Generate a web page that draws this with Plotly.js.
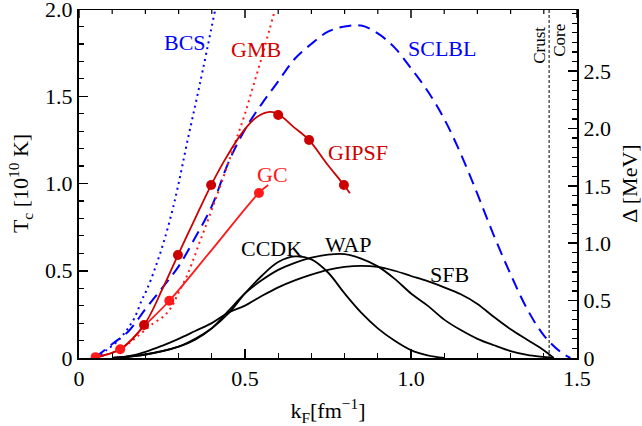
<!DOCTYPE html>
<html>
<head>
<meta charset="utf-8">
<script src="https://cdn.plot.ly/plotly-3.0.1.min.js"></script>
<style>
html,body{margin:0;padding:0;background:#fff;}
#chart{width:642px;height:426px;}
</style>
</head>
<body>
<div id="chart"></div>
<script>
// ---- data (k_F in fm^-1, T_c in 10^10 K) ----
const bcsKF   = [0.05, 0.083, 0.114, 0.144, 0.169, 0.189, 0.204, 0.229, 0.254, 0.279, 0.299, 0.324, 0.364, 0.41];
const bcsTc   = [0.0, 0.046, 0.093, 0.16, 0.237, 0.332, 0.39, 0.514, 0.657, 0.829, 0.991, 1.22, 1.57, 1.994];

const gmbKF   = [0.05, 0.124, 0.18, 0.224, 0.254, 0.279, 0.299, 0.324, 0.344, 0.364, 0.385, 0.405, 0.425, 0.45, 0.475, 0.50, 0.525, 0.55, 0.575, 0.59];
const gmbTc   = [0.0, 0.05, 0.13, 0.199, 0.237, 0.294, 0.371, 0.466, 0.562, 0.667, 0.772, 0.877, 0.982, 1.12, 1.26, 1.40, 1.56, 1.72, 1.89, 1.994];

const sclblKF = [0.05, 0.10, 0.15, 0.20, 0.25, 0.30, 0.35, 0.40, 0.45, 0.50, 0.55, 0.60, 0.65, 0.70, 0.75, 0.80, 0.85, 0.90, 0.95, 1.00, 1.05, 1.10, 1.15, 1.20, 1.25, 1.30, 1.35, 1.40, 1.45, 1.48];
const sclblTc = [0.005, 0.08, 0.155, 0.28, 0.40, 0.525, 0.69, 0.87, 1.12, 1.31, 1.455, 1.585, 1.715, 1.80, 1.87, 1.90, 1.905, 1.86, 1.78, 1.66, 1.53, 1.37, 1.17, 0.94, 0.70, 0.48, 0.28, 0.13, 0.035, 0.0];

const gipsfCurveKF = [0.05, 0.124, 0.196, 0.25, 0.298, 0.35, 0.398, 0.445, 0.495, 0.535, 0.575, 0.60, 0.645, 0.693, 0.746, 0.798, 0.816];
const gipsfCurveTc = [0.005, 0.05, 0.189, 0.39, 0.59, 0.80, 0.991, 1.154, 1.30, 1.38, 1.41, 1.398, 1.326, 1.249, 1.115, 0.991, 0.944];
const gipsfDotKF   = [0.196, 0.298, 0.398, 0.60, 0.693, 0.798];
const gipsfDotTc   = [0.189, 0.59, 0.991, 1.393, 1.249, 0.991];

const gcCurveKF = [0.05, 0.124, 0.20, 0.272, 0.40, 0.542, 0.57];
const gcCurveTc = [0.005, 0.05, 0.19, 0.328, 0.62, 0.946, 0.991];
const gcDotKF   = [0.05, 0.124, 0.272, 0.542];
const gcDotTc   = [0.005, 0.05, 0.328, 0.946];

const ccdkKF = [0.10, 0.20, 0.30, 0.35, 0.40, 0.45, 0.50, 0.55, 0.60, 0.65, 0.70, 0.75, 0.80, 0.85, 0.90, 0.95, 1.00, 1.05, 1.10];
const ccdkTc = [0.0, 0.02, 0.065, 0.11, 0.17, 0.255, 0.37, 0.47, 0.55, 0.582, 0.565, 0.49, 0.37, 0.26, 0.17, 0.10, 0.045, 0.015, 0.0];

const wapKF = [0.10, 0.20, 0.30, 0.35, 0.40, 0.45, 0.50, 0.55, 0.60, 0.65, 0.70, 0.75, 0.80, 0.85, 0.90, 0.95, 1.00, 1.05, 1.10, 1.15, 1.20, 1.25, 1.30, 1.35, 1.40, 1.43];
const wapTc = [0.0, 0.02, 0.065, 0.105, 0.17, 0.27, 0.37, 0.445, 0.505, 0.545, 0.575, 0.592, 0.595, 0.57, 0.525, 0.455, 0.37, 0.30, 0.22, 0.16, 0.11, 0.073, 0.04, 0.018, 0.006, 0.0];

const sfbKF = [0.10, 0.15, 0.20, 0.25, 0.30, 0.35, 0.40, 0.45, 0.50, 0.55, 0.60, 0.65, 0.70, 0.75, 0.80, 0.85, 0.90, 0.95, 1.00, 1.05, 1.10, 1.15, 1.20, 1.25, 1.30, 1.35, 1.40, 1.43];
const sfbTc = [0.0, 0.01, 0.035, 0.07, 0.11, 0.155, 0.20, 0.26, 0.30, 0.355, 0.405, 0.445, 0.478, 0.505, 0.522, 0.528, 0.522, 0.50, 0.47, 0.44, 0.405, 0.365, 0.31, 0.235, 0.165, 0.105, 0.045, 0.0];

const crustCoreKF = [1.416, 1.416];
const crustCoreTc = [0, 2.0];
const tcPerMeV = 0.6577;   // T_c [10^10 K] per Delta [MeV]

const xRange = [0, 1.5];
const yRange = [0, 2.0];
const xTickVals = [0, 0.5, 1.0, 1.5];
const xTickText = ['0', '0.5', '1.0', '1.5'];
const xMinorStep = 0.1;
const yTickVals = [0, 0.5, 1.0, 1.5, 2.0];
const yTickText = ['0', '0.5', '1.0', '1.5', '2.0'];
const y2TickVals = [0, 0.5, 1.0, 1.5, 2.0, 2.5];
const y2TickText = ['0', '0.5', '1.0', '1.5', '2.0', '2.5'];

// ---- styles ----
const BLUE = '#0000ff', DRED = '#cc0000', RED = '#ff1a1a', BLACK = '#000000';
const FONT = 'Liberation Serif, DejaVu Serif, serif';
const W = 642, H = 426, M = {l: 79, r: 65, t: 9, b: 68};
const plotH = H - M.t - M.b;
const pxToTc = (yRange[1] - yRange[0]) / plotH;

function line(x, y, color, dash, width) {
  return {x: x, y: y, type: 'scatter', mode: 'lines', hoverinfo: 'skip',
          line: {color: color, dash: dash || 'solid', width: width || 1.8, shape: 'spline', smoothing: 1}};
}
function dots(x, y, color) {
  return {x: x, y: y, type: 'scatter', mode: 'markers', hoverinfo: 'skip',
          marker: {color: color, size: 10, line: {width: 0}}};
}

// top frame: border line plus mirrored inward ticks, built from the tick arrays
const topMajX = [], topMajY = [], topMinX = [], topMinY = [];
for (let i = 0; i <= Math.round((xRange[1] - xRange[0]) / xMinorStep); i++) {
  const v = +(xRange[0] + i * xMinorStep).toFixed(3);
  const major = xTickVals.some(t => Math.abs(t - v) < 1e-9);
  const len = (major ? 9 : 5) * pxToTc;
  const X = major ? topMajX : topMinX, Y = major ? topMajY : topMinY;
  X.push(v, v, null); Y.push(yRange[1], yRange[1] - len, null);
}

const traces = [
  {x: crustCoreKF, y: crustCoreTc, type: 'scatter', mode: 'lines', hoverinfo: 'skip',
   line: {color: 'black', width: 1, dash: '3px,2px'}},
  line(ccdkKF, ccdkTc, BLACK),
  line(wapKF, wapTc, BLACK),
  line(sfbKF, sfbTc, BLACK),
  line(sclblKF, sclblTc, BLUE, '12px,7px', 2),
  line(bcsKF, bcsTc, BLUE, '2px,4px', 2),
  line(gmbKF, gmbTc, RED, '2px,4px', 2),
  line(gcCurveKF, gcCurveTc, RED),
  line(gipsfCurveKF, gipsfCurveTc, DRED),
  dots(gcDotKF, gcDotTc, RED),
  dots(gipsfDotKF, gipsfDotTc, DRED),
  {x: xRange, y: [yRange[1], yRange[1]], type: 'scatter', mode: 'lines', hoverinfo: 'skip', cliponaxis: false,
   line: {color: 'black', width: 2}},
  {x: topMajX, y: topMajY, type: 'scatter', mode: 'lines', hoverinfo: 'skip', cliponaxis: false, connectgaps: false,
   line: {color: 'black', width: 1.5}},
  {x: topMinX, y: topMinY, type: 'scatter', mode: 'lines', hoverinfo: 'skip', cliponaxis: false, connectgaps: false,
   line: {color: 'black', width: 1.2}},
  {x: [], y: [], yaxis: 'y2', type: 'scatter', mode: 'lines', hoverinfo: 'skip'}
];

function lab(text, x, y, color) {
  return {text: text, x: x, y: y, xref: 'x', yref: 'y', showarrow: false,
          font: {family: FONT, size: 22, color: color}};
}

const axisCommon = {
  showgrid: false, zeroline: false, showline: true, linecolor: 'black', linewidth: 2,
  ticks: 'inside', ticklen: 9, tickwidth: 1.5, tickcolor: 'black',
  ticklabeloverflow: 'allow',
  tickfont: {family: FONT, size: 22, color: 'black'}
};
const minorCommon = {ticks: 'inside', ticklen: 5, tickwidth: 1.2, tickcolor: 'black', showgrid: false};

const layout = {
  width: W, height: H,
  margin: M,
  paper_bgcolor: 'white', plot_bgcolor: 'white',
  showlegend: false,
  font: {family: FONT, size: 22, color: 'black'},
  xaxis: Object.assign({}, axisCommon, {
    range: xRange, tickvals: xTickVals, ticktext: xTickText, mirror: false,
    minor: Object.assign({dtick: xMinorStep}, minorCommon),
    title: {text: 'k<sub>F</sub>[fm<sup>−1</sup>]', font: {family: FONT, size: 22}, standoff: 14}
  }),
  yaxis: Object.assign({}, axisCommon, {
    range: yRange, tickvals: yTickVals, ticktext: yTickText, mirror: false,
    minor: Object.assign({dtick: 0.1}, minorCommon),
    title: {text: 'T<sub>c</sub> [10<sup>10</sup> K]', font: {family: FONT, size: 22}, standoff: 10}
  }),
  yaxis2: Object.assign({}, axisCommon, {
    overlaying: 'y', side: 'right', anchor: 'x',
    range: [0, yRange[1] / tcPerMeV], tickvals: y2TickVals, ticktext: y2TickText,
    minor: Object.assign({dtick: 0.5 / 6}, minorCommon),
    title: {text: 'Δ [MeV]', font: {family: FONT, size: 22}, standoff: 18}
  }),
  annotations: [
    lab('BCS', 0.319, 1.81, BLUE),
    lab('GMB', 0.533, 1.77, '#d40000'),
    lab('SCLBL', 1.092, 1.775, BLUE),
    lab('GIPSF', 0.84, 1.175, DRED),
    lab('GC', 0.584, 1.05, RED),
    lab('CCDK', 0.58, 0.63, BLACK),
    lab('WAP', 0.811, 0.65, BLACK),
    lab('SFB', 1.117, 0.477, BLACK),
    {text: 'Crust', x: 1.386, y: 1.79, xref: 'x', yref: 'y', showarrow: false, textangle: -90,
     font: {family: FONT, size: 17, color: 'black'}},
    {text: 'Core', x: 1.447, y: 1.82, xref: 'x', yref: 'y', showarrow: false, textangle: -90,
     font: {family: FONT, size: 17, color: 'black'}}
  ]
};

Plotly.newPlot('chart', traces, layout, {staticPlot: true, displayModeBar: false});
</script>
</body>
</html>
